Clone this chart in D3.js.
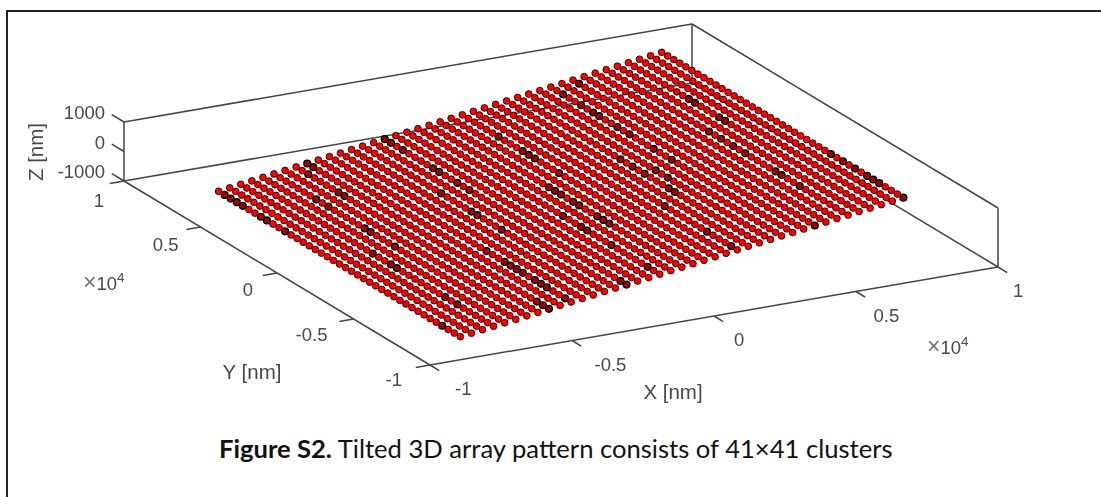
<!DOCTYPE html>
<html>
<head>
<meta charset="utf-8">
<script src="https://cdnjs.cloudflare.com/ajax/libs/d3/7.8.5/d3.min.js"></script>
<style>
  html, body { margin: 0; padding: 0; background: #fff; }
  svg { display: block; }
  .tick { font-family: "Liberation Sans", Arial, sans-serif; font-size: 18.5px; fill: #484848; }
  .axlabel { font-family: "Liberation Sans", Arial, sans-serif; font-size: 20.5px; fill: #484848; }
  .caption { font-family: Lato, "Open Sans", sans-serif; font-size: 25.6px; fill: #111; }
</style>
</head>
<body>
<svg width="1101" height="497"></svg>
<script>
// grid positions, in nm
var xPositions = [-7800,-7410,-7020,-6630,-6240,-5850,-5460,-5070,-4680,-4290,-3900,-3510,-3120,-2730,-2340,-1950,-1560,-1170,-780,-390,0,
                  390,780,1170,1560,1950,2340,2730,3120,3510,3900,4290,4680,5070,5460,5850,6240,6630,7020,7410,7800];
var yPositions = [-7900,-7505,-7110,-6715,-6320,-5925,-5530,-5135,-4740,-4345,-3950,-3555,-3160,-2765,-2370,-1975,-1580,-1185,-790,-395,0,
                  395,790,1185,1580,1975,2370,2765,3160,3555,3950,4345,4740,5135,5530,5925,6320,6715,7110,7505,7900];
// height of each x column (the array is tilted along x)
var zByColumn = [-1060,-1007,-954,-901,-848,-795,-742,-689,-636,-583,-530,-477,-424,-371,-318,-265,-212,-159,-106,-53,0,
                 53,106,159,212,265,318,371,424,477,530,583,636,689,742,795,848,901,954,1007,1060];
// the dark markers, as [column, row]
var darkClusters = [
  [37,30],[37,29],[37,25],[37,24],[35,23],[35,21],[35,19],[35,17],[40,12],[40,10],[40,8],[40,6],[40,5],[40,4],[40,0],
  [35,12],[35,11],[35,8],[32,0],[25,1],[25,5],[18,2],[15,0],[15,1],[18,8],[20,13],[20,12],[25,12],[27,15],[27,14],
  [28,17],[30,20],[30,23],[28,19],[27,19],[27,21],[27,23],[30,27],[30,29],
  [5,25],[5,24],[3,20],[5,20],[3,17],[3,16],[3,8],[3,6],[0,3],[13,22],[13,21],[13,17],[10,14],[10,11],[10,10],[10,9],
  [10,8],[10,6],[10,5],[10,4],[8,2],[8,1],[8,0],[10,1],[18,16],[18,13],[18,12],[20,14],[20,18],[20,17],
  [32,39],[30,38],[30,35],[30,33],[30,32],[22,34],[22,30],[22,29],[22,28],[22,24],[15,32],[15,31],[15,28],[15,26],[15,37],
  [13,27],[20,22],[20,21],[20,20],[8,40],[8,39],[7,38],[7,33],[7,32],[5,33],[5,31],[0,33],[0,32],[0,39],[0,38],[0,37],[0,36],[15,40],[15,39],[0,29]
];
var xTicks = [-1, -0.5, 0, 0.5, 1];
var yTicks = [-1, -0.5, 0, 0.5, 1];
var zTicks = [-1000, 0, 1000];

var svg = d3.select("svg");

var defs = svg.append("defs");
defs.append("filter").attr("id", "soft").attr("x", "-5%").attr("y", "-5%").attr("width", "110%").attr("height", "110%")
  .append("feGaussianBlur").attr("stdDeviation", 0.6);

// oblique projection: each data axis gets a scale for its screen dx and dy
var xToDx = d3.scaleLinear().domain([-10000, 10000]).range([-284, 284]);
var xToDy = d3.scaleLinear().domain([-10000, 10000]).range([49, -49]);
var yToDx = d3.scaleLinear().domain([-10000, 10000]).range([153, -153]);
var yToDy = d3.scaleLinear().domain([-10000, 10000]).range([92, -92]);
var zToDy = d3.scaleLinear().domain([-1000, 1000]).range([29.5, -29.5]);

function project(x, y, z) {
  return [561 + xToDx(x) + yToDx(y), 194.5 + xToDy(x) + yToDy(y) + zToDy(z)];
}
function seg(a, b) {
  var p = project(a[0], a[1], a[2]), q = project(b[0], b[1], b[2]);
  return "M" + p[0] + "," + p[1] + "L" + q[0] + "," + q[1];
}

var E = 10000, Z = 1000;

// picture border
svg.append("path").attr("d", "M7,497V11H1101").attr("fill", "none").attr("stroke", "#222").attr("stroke-width", 2);

var plot = svg.append("g").attr("filter", "url(#soft)");

// box edges
var edges = [
  [[-E,E,Z],[E,E,Z]], [[-E,E,-Z],[E,E,-Z]], [[E,E,-Z],[E,E,Z]],
  [[E,E,Z],[E,-E,Z]], [[E,E,-Z],[E,-E,-Z]], [[E,-E,-Z],[E,-E,Z]],
  [[-E,E,-Z],[-E,E,Z]], [[-E,E,-Z],[-E,-E,-Z]], [[-E,-E,-Z],[E,-E,-Z]]
];
plot.append("g").selectAll("path").data(edges).enter().append("path")
  .attr("d", function(d){ return seg(d[0], d[1]); })
  .attr("fill", "none").attr("stroke", "#444").attr("stroke-width", 1.5);

// ticks
var tickG = plot.append("g").attr("fill", "none").attr("stroke", "#444").attr("stroke-width", 1.5);
xTicks.forEach(function(t){
  tickG.append("path").attr("d", seg([t*E,-E,-Z],[t*E,-E-600,-Z]));
});
yTicks.forEach(function(t){
  tickG.append("path").attr("d", seg([-E,t*E,-Z],[-E-500,t*E,-Z]));
});
zTicks.forEach(function(t){
  tickG.append("path").attr("d", seg([-E,E,t],[-E,E+800,t]));
});

// markers
var isDark = {};
darkClusters.forEach(function(d){ isDark[d[0] + "_" + d[1]] = true; });
var points = [];
xPositions.forEach(function(x, i){
  yPositions.forEach(function(y, j){
    points.push({ x: x, y: y, z: zByColumn[i], dark: isDark[i + "_" + j] });
  });
});
plot.append("g").selectAll("circle").data(points).enter().append("circle")
  .attr("cx", function(d){ return project(d.x, d.y, d.z)[0]; })
  .attr("cy", function(d){ return project(d.x, d.y, d.z)[1]; })
  .attr("r", 3.4)
  .attr("fill", function(d){ return d.dark ? "#a80000" : "#ff0000"; })
  .attr("stroke", "#000")
  .attr("stroke-width", function(d){ return d.dark ? 1.4 : 0.8; });

// tick labels
var txt = svg.append("g").attr("filter", "url(#soft)");
xTicks.forEach(function(t){
  var p = project(t*E, -E, -Z);
  txt.append("text").attr("class", "tick").attr("text-anchor", "start")
    .attr("x", p[0] + 20 - 5*t).attr("y", p[1] + 30).text(t);
});
yTicks.forEach(function(t){
  var p = project(-E, t*E, -Z);
  txt.append("text").attr("class", "tick").attr("text-anchor", "end")
    .attr("x", p[0] - 24 + 4*t).attr("y", p[1] + 23 + 2.5*t).text(t);
});
zTicks.forEach(function(t){
  var p = project(-E, E, t);
  txt.append("text").attr("class", "tick").attr("text-anchor", "end")
    .attr("x", p[0] - 19).attr("y", p[1] - 3).text(t);
});

// axis labels
txt.append("text").attr("class", "axlabel").attr("text-anchor", "middle")
  .attr("x", 673).attr("y", 399).text("X [nm]");
txt.append("text").attr("class", "axlabel").attr("text-anchor", "middle")
  .attr("x", 252).attr("y", 379).text("Y [nm]");
txt.append("text").attr("class", "axlabel").attr("text-anchor", "middle")
  .attr("transform", "translate(43,152) rotate(-90)").text("Z [nm]");

// exponent notes
function exponent(x, y) {
  var t = txt.append("text").attr("class", "tick").attr("x", x).attr("y", y);
  t.append("tspan").attr("fill", "#777").attr("font-size", 23).text("\u00d7");
  t.append("tspan").text("10");
  t.append("tspan").attr("dy", -8).attr("font-size", 13.5).text("4");
}
exponent(83, 290);
exponent(927, 354);

// caption
var cap = svg.append("text").attr("class", "caption").attr("x", 219).attr("y", 458);
cap.append("tspan").attr("font-weight", 700).text("Figure S2.");
cap.append("tspan").text(" Tilted 3D array pattern consists of 41\u00d741 clusters");
</script>
</body>
</html>
